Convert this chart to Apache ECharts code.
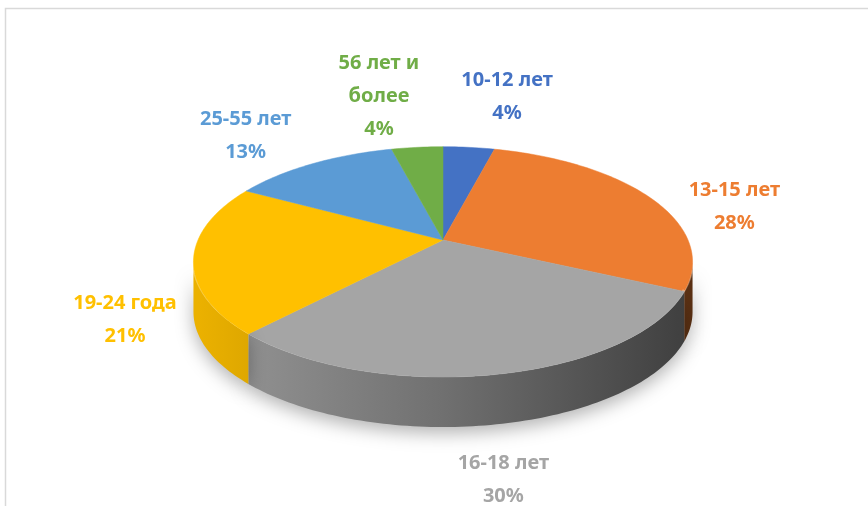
<!DOCTYPE html>
<html>
<head>
<meta charset="utf-8">
<script src="https://cdn.jsdelivr.net/npm/echarts@6/dist/echarts.min.js"></script>
<style>
  html, body { margin: 0; padding: 0; background: #fff; }
  #chart { width: 868px; height: 506px; }
</style>
</head>
<body>
<div id="chart"></div>
<script>
const categories = ['10-12 лет', '13-15 лет', '16-18 лет', '19-24 года', '25-55 лет', '56 лет и более'];
const values = [4, 28, 30, 21, 13, 4];
const colors = ['#4472C4', '#ED7D31', '#A5A5A5', '#FFC000', '#5B9BD5', '#70AD47'];

// геометрия наклонного "объёмного" круга
const CX = 443, CY = 240, RX = 245, RY = 111, K = 0.19, DEPTH = 50;
// эллипс для подписей
const LCX = 443, LCY = 289, LRX = 322, LRY = 194;
const FONT = 'bold 20px "Noto Sans"';
const LINE_H = 33;

const total = values.reduce((a, b) => a + b, 0);
const starts = [];
let acc = 0;
values.forEach((v) => { starts.push(acc / total * Math.PI * 2); acc += v; });

function proj(t) {
  const u = Math.sin(t), v = -Math.cos(t);
  const d = 1 - K * v;
  return [CX + RX * u / d, CY + RY * v / d];
}
function arc(a0, a1, dy) {
  const pts = [];
  const n = Math.max(2, Math.ceil((a1 - a0) / 0.02));
  for (let i = 0; i <= n; i++) {
    const p = proj(a0 + (a1 - a0) * i / n);
    pts.push([p[0], p[1] + dy]);
  }
  return pts;
}
function shade(hex, f) {
  const n = parseInt(hex.slice(1), 16);
  const r = Math.round(((n >> 16) & 255) * f), g = Math.round(((n >> 8) & 255) * f), b = Math.round((n & 255) * f);
  return 'rgb(' + r + ',' + g + ',' + b + ')';
}

// подписи: перенос строк и раскладка без наложений
const ctx = document.createElement('canvas').getContext('2d');
ctx.font = FONT;
function wrap(text, maxW) {
  const words = text.split(' ');
  const lines = [];
  let cur = '';
  words.forEach((w) => {
    const t = cur ? cur + ' ' + w : w;
    if (cur && ctx.measureText(t).width > maxW) { lines.push(cur); cur = w; } else cur = t;
  });
  lines.push(cur);
  return lines;
}
const labels = values.map((v, i) => {
  const mid = starts[i] + v / total * Math.PI;
  const lines = wrap(categories[i], 125);
  lines.push(Math.round(v / total * 100) + '%');
  const w = Math.max(...lines.map((l) => ctx.measureText(l).width));
  return {
    x: LCX + LRX * Math.sin(mid),
    y: LCY - LRY * Math.cos(mid),
    w: w, h: lines.length * LINE_H,
    text: lines.join('\n')
  };
});
for (let pass = 0; pass < 5; pass++) {
  for (let i = 0; i < labels.length; i++) {
    for (let j = i + 1; j < labels.length; j++) {
      const a = labels[i], b = labels[j];
      const needX = (a.w + b.w) / 2 + 42;
      const overlapY = Math.abs(a.y - b.y) < (a.h + b.h) / 2;
      const dx = b.x - a.x;
      if (overlapY && Math.abs(dx) < needX) {
        const push = (needX - Math.abs(dx)) / 2 * (dx >= 0 ? 1 : -1);
        a.x -= push; b.x += push;
      }
    }
  }
}

const tA = Math.acos(-K), tB = 2 * Math.PI - Math.acos(-K);

const chart = echarts.init(document.getElementById('chart'));
chart.setOption({
  animation: false,
  graphic: [{
    type: 'rect', z: -10,
    shape: { x: 5.5, y: 8.5, width: 900, height: 600 },
    style: { fill: 'none', stroke: '#d9d9d9', lineWidth: 1.5 }
  }],
  series: [{
    type: 'custom',
    coordinateSystem: 'none',
    data: values.map((v, i) => [v, i]),
    renderItem: function (params, api) {
      const i = api.value(1);
      const a0 = starts[i], a1 = a0 + api.value(0) / total * Math.PI * 2;
      const col = colors[i];
      const children = [];
      const w0 = Math.max(a0, tA), w1 = Math.min(a1, tB);
      if (w1 > w0) {
        const top = arc(w0, w1, 0);
        const bottom = arc(w0, w1, DEPTH).reverse();
        children.push({
          type: 'polygon',
          shape: { points: top.concat(bottom) },
          style: {
            fill: new echarts.graphic.LinearGradient(CX - RX, 0, CX + RX, 0, [
              { offset: 0, color: shade(col, 0.92) },
              { offset: 0.5, color: shade(col, 0.68) },
              { offset: 1, color: shade(col, 0.38) }
            ], true),
            shadowBlur: 18, shadowOffsetY: 6, shadowColor: 'rgba(0,0,0,0.3)'
          }
        });
        children.push({
          type: 'polyline',
          shape: { points: arc(w0, w1, -1.5) },
          style: { stroke: 'rgba(255,255,255,0.35)', lineWidth: 3, fill: null }
        });
      }
      children.push({
        type: 'polygon',
        shape: { points: [[CX, CY]].concat(arc(a0, a1, 0)) },
        style: { fill: col, stroke: col, lineWidth: 0.5 }
      });
      const lb = labels[i];
      children.push({
        type: 'text',
        x: lb.x, y: lb.y,
        style: {
          text: lb.text, font: FONT, fill: col,
          align: 'center', verticalAlign: 'middle', lineHeight: LINE_H
        }
      });
      return { type: 'group', children: children };
    }
  }]
});
</script>
</body>
</html>
